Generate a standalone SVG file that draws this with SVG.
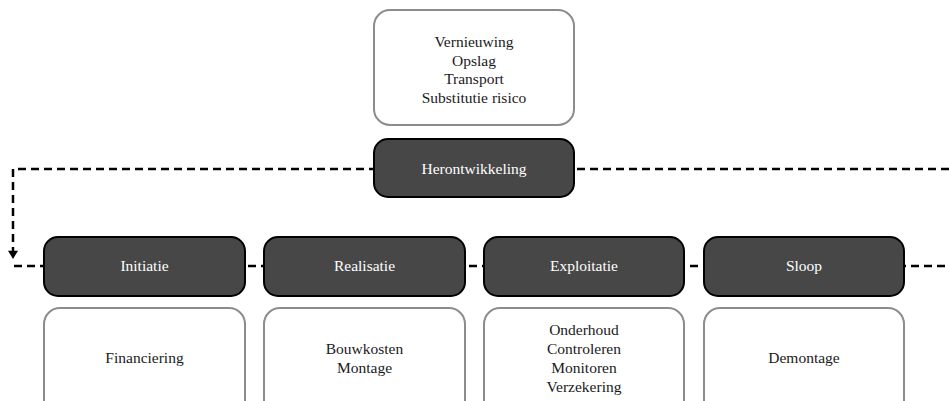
<svg xmlns="http://www.w3.org/2000/svg" width="949" height="401" viewBox="0 0 949 401">
  <defs>
    <marker id="arrow" viewBox="0 0 10 12" refX="10" refY="6" markerWidth="12" markerHeight="10" markerUnits="userSpaceOnUse" orient="auto">
      <path d="M0,0 L10,6 L0,12 Z" fill="#000"/>
    </marker>
  </defs>
  <style>
    .phase rect { fill: #474747; stroke: #000; stroke-width: 2; }
    .phase text { fill: #fff; }
    .info rect { fill: #fff; stroke: #8c8c8c; stroke-width: 2; }
    .info text { fill: #1a1a1a; }
    text { font-family: "Liberation Serif", "DejaVu Serif", serif; font-size: 15.5px; text-anchor: middle; }
    .dash { fill: none; stroke: #000; stroke-width: 2.5; stroke-dasharray: 8 5; }
  </style>
  <rect width="949" height="401" fill="#fff"/>

  <g id="connectors">
    <path class="dash" d="M949,169 H13 V259" marker-end="url(#arrow)"/>
    <path class="dash" d="M14,266 H949"/>
  </g>

  <g id="node-risks" class="info">
    <rect x="374" y="10" width="200" height="115" rx="16"/>
    <text x="474" y="47">Vernieuwing</text>
    <text x="474" y="66">Opslag</text>
    <text x="474" y="84">Transport</text>
    <text x="474" y="103">Substitutie risico</text>
  </g>

  <g id="node-herontwikkeling" class="phase">
    <rect x="374" y="139" width="200" height="58" rx="14"/>
    <text x="474" y="174">Herontwikkeling</text>
  </g>

  <g id="node-initiatie" class="phase">
    <rect x="44" y="237" width="201" height="59" rx="14"/>
    <text x="144.5" y="271">Initiatie</text>
  </g>
  <g id="node-realisatie" class="phase">
    <rect x="264" y="237" width="201" height="59" rx="14"/>
    <text x="364.5" y="271">Realisatie</text>
  </g>
  <g id="node-exploitatie" class="phase">
    <rect x="484" y="237" width="200" height="59" rx="14"/>
    <text x="584" y="271">Exploitatie</text>
  </g>
  <g id="node-sloop" class="phase">
    <rect x="704" y="237" width="200" height="59" rx="14"/>
    <text x="804" y="271">Sloop</text>
  </g>

  <g id="node-financiering" class="info">
    <rect x="44" y="308" width="201" height="112" rx="16"/>
    <text x="144.5" y="363">Financiering</text>
  </g>
  <g id="node-bouwkosten" class="info">
    <rect x="264" y="308" width="201" height="112" rx="16"/>
    <text x="364.5" y="354">Bouwkosten</text>
    <text x="364.5" y="373">Montage</text>
  </g>
  <g id="node-onderhoud" class="info">
    <rect x="484" y="308" width="200" height="112" rx="16"/>
    <text x="584" y="335">Onderhoud</text>
    <text x="584" y="354">Controleren</text>
    <text x="584" y="373">Monitoren</text>
    <text x="584" y="392">Verzekering</text>
  </g>
  <g id="node-demontage" class="info">
    <rect x="704" y="308" width="200" height="112" rx="16"/>
    <text x="804" y="363">Demontage</text>
  </g>
</svg>
